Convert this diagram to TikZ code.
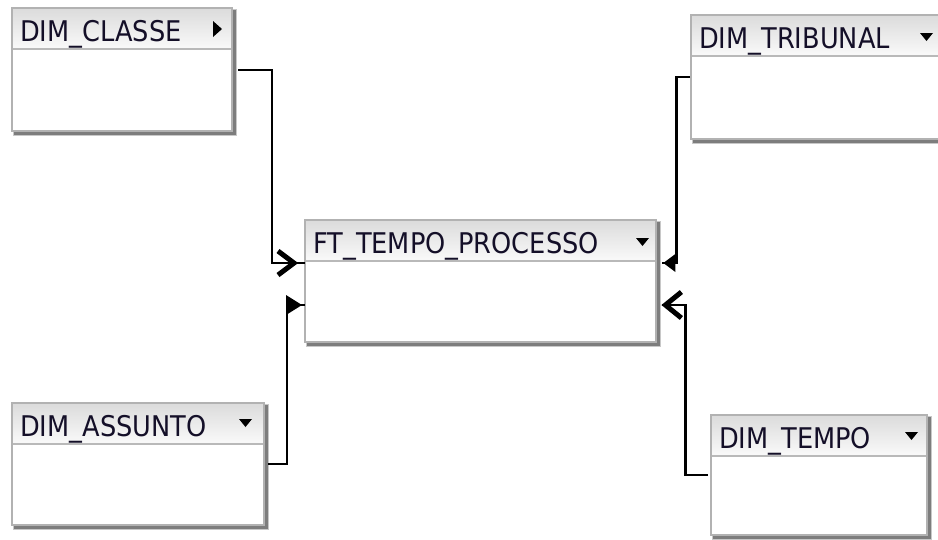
\documentclass[tikz,border=0pt]{standalone}
\usepackage{fontspec}
\setmainfont{DejaVu Sans}[FakeStretch=0.9]
\definecolor{bordc}{RGB}{178,178,178}
\definecolor{shadc}{RGB}{125,125,125}
\definecolor{shadlc}{RGB}{200,200,200}
\definecolor{hdrtop}{RGB}{220,220,220}
\definecolor{hdrbot}{RGB}{250,250,250}
\definecolor{sepc}{RGB}{185,185,185}
\definecolor{txtc}{RGB}{20,15,40}
\tikzset{
  tbl/.style={fill=white, inner sep=0pt, anchor=north west, draw=none},
  tblline/.style={draw=bordc, line width=2pt},
  lbl/.style={anchor=base west, inner sep=0pt, text=txtc, font=\fontsize{28.5}{30}\selectfont},
  conn/.style={draw=black, line width=2.2pt},
  chev/.style={draw=black, line width=5pt, miter limit=10},
  blackmark/.style={fill=black},
}
\newcommand\erbox[6]{%
  \fill[shadlc] (#2+1,#3+1) rectangle (#2+#4+5,#3+#5+5);
  \fill[shadc] (#2+1.5,#3+1.5) rectangle (#2+#4+3.5,#3+#5+3.5);
  \node[tbl, minimum width=#4pt, minimum height=#5pt] (#1) at (#2,#3) {};
  \shade[top color=hdrtop, bottom color=hdrbot] ([xshift=1pt,yshift=-1pt]#1.north west) rectangle ([xshift=-1pt,yshift=-41pt]#1.north east);
  \draw[sepc, line width=1.6pt] ([yshift=-41pt]#1.north west) -- ([yshift=-41pt]#1.north east);
  \node[lbl] (#1-t) at ([xshift=8pt,yshift=-33pt]#1.north west) {#6};
  \draw[tblline] (#1.north west) rectangle (#1.south east);
}
\begin{document}
\begin{tikzpicture}[x=1pt,y=-1pt]
\useasboundingbox[fill=white] (0,0) rectangle (938,539);

\erbox{classe}{12}{8}{220}{123}{DIM\_CLASSE}
\erbox{tribunal}{691}{15}{254}{124}{DIM\_TRIBUNAL}
\erbox{ft}{305}{220}{351}{122}{FT\_TEMPO\_PROCESSO}
\erbox{assunto}{12}{403}{252}{122}{DIM\_ASSUNTO}
\erbox{tempo}{711}{415}{216}{120}{DIM\_TEMPO}

% header markers
\fill[blackmark] (213,21) -- (222,29) -- (213,37) -- cycle;
\fill[blackmark] (920,33) -- (933,33) -- (926.5,41) -- cycle;
\fill[blackmark] (636,238) -- (649,238) -- (642.5,246) -- cycle;
\fill[blackmark] (239,419) -- (252,419) -- (245.5,427) -- cycle;
\fill[blackmark] (905,432) -- (918,432) -- (911.5,440) -- cycle;

% connection points on the fact table
\coordinate (ftL1) at ([yshift=-43pt]ft.north west);
\coordinate (ftL2) at ([yshift=-85pt]ft.north west);
\coordinate (ftR1) at ([xshift=6pt,yshift=-43pt]ft.north east);
\coordinate (ftR2) at ([xshift=6pt,yshift=-85pt]ft.north east);

% connectors
\draw[conn] ([xshift=6pt]classe.east) -| ([xshift=-33pt]ftL1) -- (ftL1);
\draw[conn] ([xshift=4pt]assunto.east) -| ([xshift=-18pt]ftL2) -- (ftL2);
\draw[conn] ([xshift=-1pt]tribunal.west) -| ([xshift=14pt]ftR1) -- (ftR1);
\draw[conn] ([xshift=-3pt]tempo.west) -| ([xshift=23pt]ftR2) -- (ftR2);

% ends
\draw[chev] ([xshift=-27pt,yshift=-12pt]ftL1) -- ([xshift=-11pt]ftL1) -- ([xshift=-27pt,yshift=12pt]ftL1);
\draw[chev] ([xshift=19pt,yshift=-13pt]ftR2) -- ([xshift=3pt]ftR2) -- ([xshift=19pt,yshift=13pt]ftR2);
\fill[blackmark] ([xshift=-19pt,yshift=-10pt]ftL2) -- ([xshift=-3pt]ftL2) -- ([xshift=-19pt,yshift=10pt]ftL2) -- cycle;
\fill[blackmark] ([xshift=13pt,yshift=-9pt]ftR1) -- ([xshift=1pt]ftR1) -- ([xshift=13pt,yshift=9pt]ftR1) -- cycle;
\end{tikzpicture}
\end{document}
